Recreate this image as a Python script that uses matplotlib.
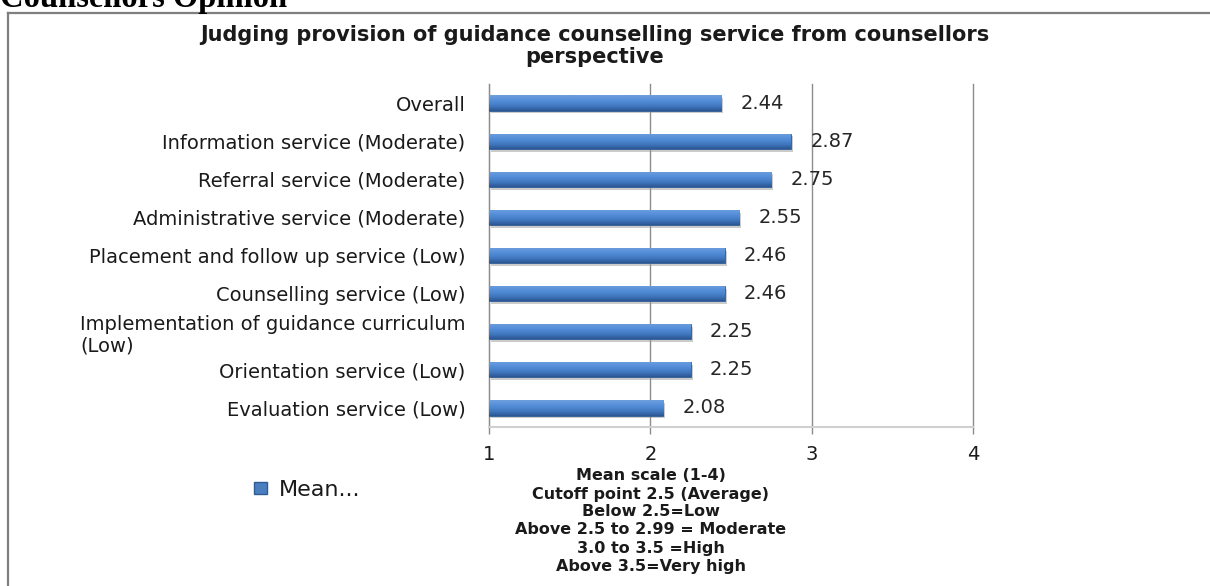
import numpy as np
import matplotlib.pyplot as plt
from matplotlib.lines import Line2D
from matplotlib.patches import Patch
from matplotlib.colors import LinearSegmentedColormap
import matplotlib.patheffects as pe

# Counsellors' mean rating per guidance service (scale 1-4)
services = ['Overall',
            'Information service (Moderate)',
            'Referral service (Moderate)',
            'Administrative service (Moderate)',
            'Placement and follow up service (Low)',
            'Counselling service (Low)',
            'Implementation of guidance curriculum\n(Low)',
            'Orientation service (Low)',
            'Evaluation service (Low)']
means = [2.44, 2.87, 2.75, 2.55, 2.46, 2.46, 2.25, 2.25, 2.08]
scale_ticks = [1, 2, 3, 4]
series_name = 'Mean...'
scale_notes = ['Mean scale (1-4)',
               'Cutoff point 2.5 (Average)',
               'Below 2.5=Low',
               'Above 2.5 to 2.99 = Moderate',
               '3.0 to 3.5 =High',
               'Above 3.5=Very high']
heading = 'Counsellors Opinion'
title = 'Judging provision of guidance counselling service from counsellors\nperspective'

W, H = 1210, 586
fig = plt.figure(figsize=(W / 100, H / 100), dpi=100)
fig.patch.set_facecolor('white')

ax = fig.add_axes([489 / W, 1 - 427 / H, (973 - 489) / W, (427 - 84) / H])

y = np.arange(len(services))[::-1]
x0 = scale_ticks[0]
widths = [m - x0 for m in means]
bars = ax.barh(y, widths, left=x0, height=0.4, color='#4a7ebf',
               edgecolor='#2f5c94', linewidth=0.6, zorder=3)

# bevelled office-style fill, light on top and dark underneath
bar_cmap = LinearSegmentedColormap.from_list(
    'bevel', ['#6f9fdc', '#5a93dc', '#4c86d0', '#3d73b8', '#2b5592'])
grad = np.linspace(0, 1, 64).reshape(-1, 1)
for b in bars:
    b.set_path_effects([pe.withSimplePatchShadow(offset=(1.5, -2), shadow_rgbFace='#999999', alpha=0.5)])
    bx, by = b.get_x(), b.get_y()
    im = ax.imshow(grad, cmap=bar_cmap, aspect='auto', zorder=4,
                   extent=[bx, bx + b.get_width(), by, by + b.get_height()],
                   interpolation='bicubic')
    im.set_clip_path(b)

ax.set_xlim(scale_ticks[0], scale_ticks[-1])
ax.set_ylim(-0.5, len(services) - 0.5)

ax.bar_label(bars, labels=[f'{m:.2f}' for m in means], padding=14,
             fontsize=14, color='#262626', zorder=5)

ax.set_xticks(scale_ticks)
ax.set_yticks(y)
ax.set_yticklabels(services)
for lab in ax.get_yticklabels():
    lab.set_multialignment('left')
ax.tick_params(axis='y', length=0, pad=17, labelsize=14, labelcolor='#1a1a1a')
ax.tick_params(axis='x', length=5, width=1, color='#8c8c8c', pad=8,
               labelsize=14, labelcolor='#1a1a1a')

ax.grid(axis='x', color='#8c8c8c', linewidth=1, zorder=0)
for gl in ax.get_xgridlines():
    gl.set_clip_on(False)
ax.set_axisbelow(True)
for s in ['top', 'right']:
    ax.spines[s].set_visible(False)
ax.spines['left'].set_color('#8c8c8c')
ax.spines['bottom'].set_color('#d0d0d0')
ax.spines['bottom'].set_linewidth(1.5)

# chart title
fig.text(595 / W, 1 - 25 / H, title, ha='center', va='top', fontsize=15,
         fontweight='bold', color='#1a1a1a', linespacing=1.1)

# axis title block
for i, note in enumerate(scale_notes):
    fig.text(651 / W, 1 - (476 + 18 * i) / H, note, ha='center', va='center',
             fontsize=11.5, fontweight='bold', color='#1a1a1a')

# legend
fig.legend(handles=[Patch(facecolor='#4a7ebf', edgecolor='#2f5c94')],
           labels=[series_name], loc='center left',
           bbox_to_anchor=(234 / W, 1 - 490 / H), frameon=False,
           handlelength=0.6, handleheight=0.5, handletextpad=0.5,
           fontsize=16, labelcolor='#1a1a1a')

# page heading and chart border
fig.text(0, 1 - 7 / H, heading, ha='left', va='baseline',
         fontsize=23.5, fontweight='bold', family='Liberation Serif')
fig.add_artist(Line2D([8 / W, 1], [1 - 13 / H, 1 - 13 / H],
                      color='#7f7f7f', lw=1.6, transform=fig.transFigure))
fig.add_artist(Line2D([8 / W, 8 / W], [1 - 13 / H, 0],
                      color='#7f7f7f', lw=1.6, transform=fig.transFigure))

fig.savefig('out.png', dpi=100)
